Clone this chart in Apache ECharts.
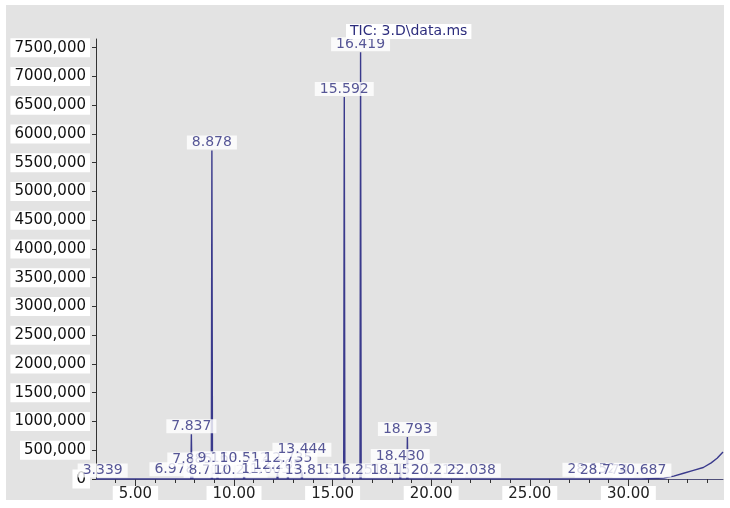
<!DOCTYPE html>
<html><head><meta charset="utf-8">
<script src="https://cdn.jsdelivr.net/npm/echarts@6/dist/echarts.min.js"></script>
<style>html,body{margin:0;padding:0;background:#fff}#c{width:730px;height:508px}</style>
</head><body><div id="c"></div><script>
// Peaks: retention time (min) and apex abundance
const peakTimes   = [3.339, 6.978, 7.837, 7.885, 8.712, 8.878, 9.163, 10.204, 10.512, 11.603, 12.205, 12.735, 13.444, 13.815, 15.592, 16.251, 16.419, 18.152, 18.430, 18.793, 20.215, 22.038, 28.152, 28.774, 30.687];
const peakHeights = [10000, 30000, 780000, 200000, 5000, 5710000, 220000, 10000, 220000, 20000, 100000, 220000, 370000, 10000, 6640000, 10000, 7420000, 10000, 260000, 730000, 10000, 10000, 20000, 10000, 10000];
const peakLabels  = ['3.339','6.978','7.837','7.885','8.712','8.878','9.163','10.204','10.512','11.603','12.205','12.735','13.444','13.815','15.592','16.251','16.419','18.152','18.430','18.793','20.215','22.038','28.152','28.774','30.687'];
// Rising baseline at end of run
const tailTimes  = [31.8, 32.3, 32.8, 33.3, 33.8, 34.2, 34.5, 34.8];
const tailValues = [15000, 50000, 100000, 150000, 200000, 280000, 360000, 470000];
// Axis ticks
const yTickValues = [0,500000,1000000,1500000,2000000,2500000,3000000,3500000,4000000,4500000,5000000,5500000,6000000,6500000,7000000,7500000];
const xLabelValues = [5,10,15,20,25,30];
const xMinorTicks = [4,5,6,7,8,9,10,11,12,13,14,15,16,17,18,19,20,21,22,23,24,25,26,27,28,29,30,31,32,33,34];
const title = 'TIC: 3.D\\data.ms';

const HALF = 0.03;
const trace = [[3.0, 0]];
peakTimes.forEach((t, i) => {
  trace.push([t - HALF, 0], [t, peakHeights[i]], [t + HALF, 0]);
});
tailTimes.forEach((t, i) => trace.push([t, tailValues[i]]));

const chart = echarts.init(document.getElementById('c'));
const fontFam = 'DejaVu Sans';
chart.setOption({
  animation: false,
  backgroundColor: '#fff',
  graphic: [{type: 'rect', z: -10, silent: true, shape: {x: 6, y: 5, width: 718, height: 495}, style: {fill: '#e3e3e3'}}],
  title: {
    text: title, left: 346, top: 24, padding: [0, 4],
    backgroundColor: '#fff',
    textStyle: {fontFamily: fontFam, fontSize: 14, fontWeight: 'normal', color: '#2d2d7d', lineHeight: 15}
  },
  grid: {left: 96, right: 7, top: 39, bottom: 29, containLabel: false},
  xAxis: [{
    type: 'value', min: 3, max: 34.8,
    axisLine: {lineStyle: {color: '#50507a', width: 1}},
    axisTick: {customValues: xMinorTicks, length: 4, lineStyle: {color: '#333'}},
    axisLabel: {customValues: xLabelValues, formatter: v => v.toFixed(2), margin: 7,
      fontFamily: fontFam, fontSize: 15, color: '#222', backgroundColor: '#fff', padding: [1, 6]},
    splitLine: {show: false}
  }, {
    type: 'value', min: 3, max: 34.8, position: 'bottom',
    axisLine: {show: false},
    axisTick: {customValues: xLabelValues, length: 8, lineStyle: {color: '#333'}},
    axisLabel: {show: false}, splitLine: {show: false}
  }],
  yAxis: {
    type: 'value', min: 0, max: 7650000,
    axisLine: {show: true, lineStyle: {color: '#333'}},
    axisTick: {show: true, customValues: yTickValues, length: 4, lineStyle: {color: '#333'}},
    axisLabel: {customValues: yTickValues, margin: 6,
      formatter: v => v === 0 ? '0' : (v / 1000) + ',000',
      fontFamily: fontFam, fontSize: 15, color: '#111', backgroundColor: '#fff', padding: [2, 4]},
    splitLine: {show: false}
  },
  series: [{
    type: 'line', data: trace, symbol: 'none', z: 3,
    lineStyle: {color: '#3a3a8c', width: 1.4}
  }, {
    type: 'scatter', z: 5, symbolSize: 0,
    data: peakTimes.map((t, i) => [t, peakHeights[i]]),
    label: {
      show: true, position: 'top', distance: 1,
      formatter: p => peakLabels[p.dataIndex],
      fontFamily: fontFam, fontSize: 14, lineHeight: 14, color: '#2d2d7d',
      backgroundColor: '#fff', padding: [0, 5]
    }
  }]
});
</script></body></html>
